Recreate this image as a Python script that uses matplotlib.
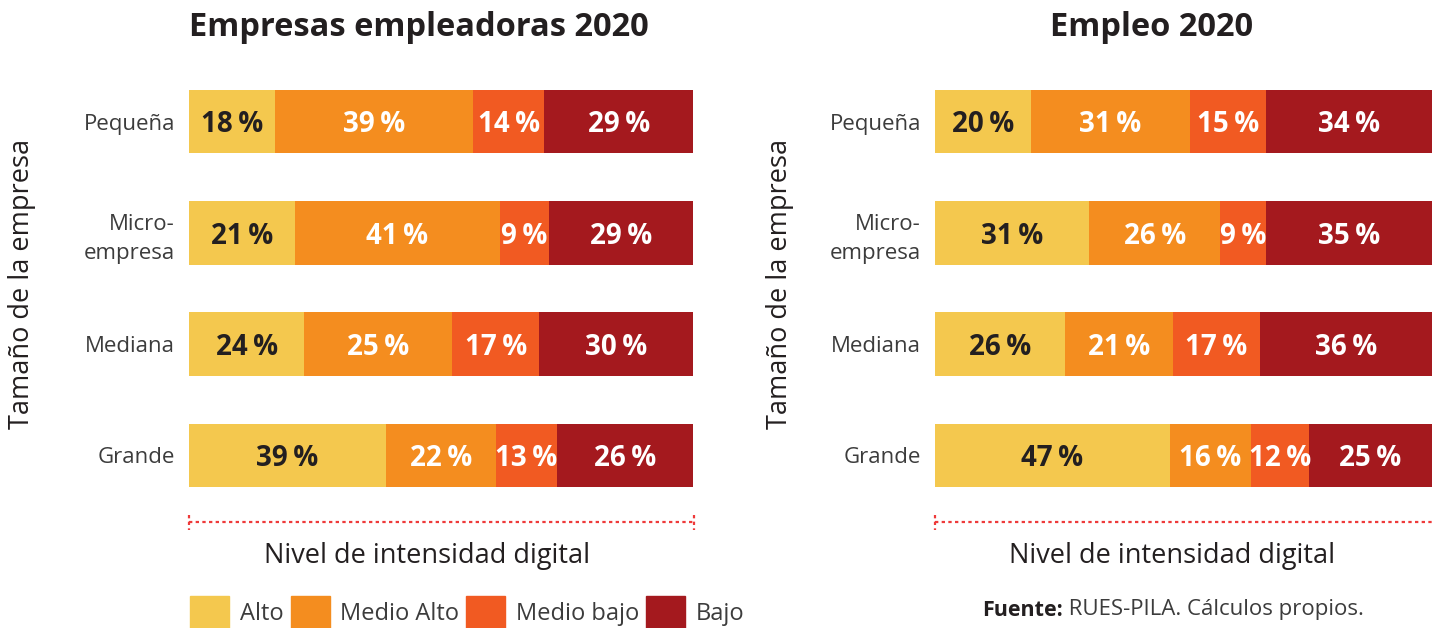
import matplotlib
matplotlib.use("Agg")
import matplotlib.pyplot as plt
import numpy as np

# ---------------- data ----------------
categories = ["Pequeña", "Micro-\nempresa", "Mediana", "Grande"]
series = ["Alto", "Medio Alto", "Medio bajo", "Bajo"]
colors = ["#F4C84E", "#F48D1F", "#F15A22", "#A4191E"]
text_colors = ["#231F20", "white", "white", "white"]

# segment widths (share of bar, %) as drawn
left_values = [
    [17.1, 39.3, 14.1, 29.5],
    [21.0, 40.7, 9.7, 28.6],
    [22.9, 29.3, 17.3, 30.5],
    [39.1, 21.8, 12.1, 27.0],
]
left_labels = [
    [18, 39, 14, 29],
    [21, 41, 9, 29],
    [24, 25, 17, 30],
    [39, 22, 13, 26],
]
right_values = [
    [19.3, 32.0, 15.3, 33.4],
    [31.0, 26.4, 9.3, 33.3],
    [26.2, 21.7, 17.5, 34.6],
    [47.3, 16.3, 11.7, 24.7],
]
right_labels = [
    [20, 31, 15, 34],
    [31, 26, 9, 35],
    [26, 21, 17, 36],
    [47, 16, 12, 25],
]
titles = ["Empresas empleadoras 2020", "Empleo 2020"]
ylabel = "Tamaño de la empresa"
xlabel = "Nivel de intensidad digital"
source_bold = "Fuente:"
source_text = "RUES-PILA. Cálculos propios."

FONT = "Open Sans"
plt.rcParams["font.family"] = [FONT, "DejaVu Sans"]

W, H = 1434, 628
fig = plt.figure(figsize=(W / 100, H / 100), dpi=100)
DARK = "#231F20"
GREY = "#3C3C3C"


def fx(px):
    return px / W


def fy(py):
    return 1 - py / H


def panel(left_px, right_px, values, labels):
    ax = fig.add_axes([fx(left_px), fy(511), fx(right_px - left_px), (511 - 66) / H])
    vals = np.array(values, dtype=float)
    totals = vals.sum(axis=1, keepdims=True)
    shares = vals / totals * 100
    ypos = np.arange(len(categories))
    left = np.zeros(len(categories))
    for j in range(len(series)):
        ax.barh(ypos, shares[:, j], left=left, height=0.57, color=colors[j],
                edgecolor="none", label=series[j])
        for i in range(len(categories)):
            ax.text(left[i] + shares[i, j] / 2, ypos[i] + 0.03,
                    f"{labels[i][j]}\u2009%",
                    ha="center", va="center", fontsize=20, fontweight="bold",
                    color=text_colors[j],
                    family=["Open Sans", "DejaVu Sans"])
        left += shares[:, j]
    ax.set_xlim(0, 100)
    ax.set_ylim(len(categories) - 0.5, -0.5)
    ax.set_yticks(ypos)
    ax.set_yticklabels(categories, fontsize=16, color=GREY, linespacing=1.45)
    ax.tick_params(axis="y", length=0, pad=10)
    ax.set_xticks([])
    for s in ax.spines.values():
        s.set_visible(False)
    return ax


axL = panel(189, 693, left_values, left_labels)
axR = panel(935, 1432, right_values, right_labels)

# titles
fig.text(fx(189), fy(28), titles[0], ha="left", va="center", fontsize=23.5,
         fontweight="bold", color=DARK)
fig.text(fx(1152), fy(28), titles[1], ha="center", va="center", fontsize=23.5,
         fontweight="bold", color=DARK)

# y axis titles
for xc in (22, 780):
    fig.text(fx(xc), fy(284), ylabel, rotation=90, ha="center", va="center",
             fontsize=19.5, color=DARK)

# dotted range lines
red = "#EE3A3A"
for (x0, x1) in ((189, 694), (935, 1440)):
    fig.add_artist(plt.Line2D([fx(x0), fx(x1)], [fy(522), fy(522)], color=red,
                              linestyle=(0, (1.5, 1.5)), linewidth=1.6))
    for xe in (x0, x1):
        fig.add_artist(plt.Line2D([fx(xe), fx(xe)], [fy(515), fy(530)], color=red,
                                  linestyle=(0, (1.5, 1.5)), linewidth=1.6))

# x axis titles
for xc in (427, 1172):
    fig.text(fx(xc), fy(556), xlabel, ha="center", va="center", fontsize=19.5,
             color=DARK)

# legend
handles = [plt.Rectangle((0, 0), 1, 1, color=c) for c in colors]
leg = fig.legend(handles, series, loc="center left",
                 bbox_to_anchor=(fx(181), fy(612)), ncol=4, frameon=False,
                 fontsize=17, handlelength=1.65, handleheight=1.65,
                 handletextpad=0.45, columnspacing=0.3, borderaxespad=0)
for t in leg.get_texts():
    t.set_color(GREY)

# source
t1 = fig.text(fx(982), fy(610), source_bold, ha="left", va="center", fontsize=15.5,
              fontweight="bold", color=DARK)
ann = plt.Annotation(" " + source_text, xy=(1, 0.5), xycoords=t1,
                     ha="left", va="center", fontsize=16, color=GREY)
fig.add_artist(ann)

fig.savefig("out.png", dpi=100)
